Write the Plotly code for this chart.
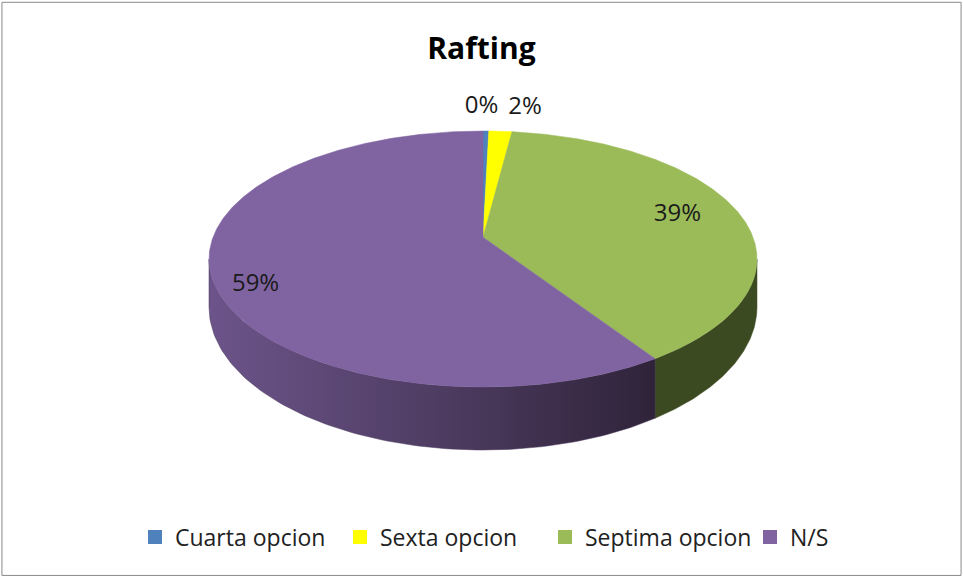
import numpy as np
import plotly.graph_objects as go

# ---------------- data ----------------
categories = ["Cuarta opcion", "Sexta opcion", "Septima opcion", "N/S"]
values = [1, 4, 97, 148]
title_text = "Rafting"

# ---------------- style ----------------
top_colors = ["#4f81bd", "#ffff00", "#9bbb59", "#8064a2"]
side_colors = ["#2c4a6e", "#8c8c00", "#3c4a22", None]
purple_side_scale = [[0.0, "#6c548a"], [0.5, "#4f3d63"], [1.0, "#2f2339"]]
label_r = [1.27, 1.27, 0.74, 0.85]
label_dx = [-5, 4, 5, 2]
label_dy = [0, 0, -2, 16]
label_pos = ["middle center", "middle right", "middle center", "middle center"]
FONT = "Open Sans"

W, H = 963, 576
cx, cy = 483, 259          # ellipse centre (pixel-like axis units)
rx, ry = 274, 128          # ellipse radii
persp = -0.17              # perspective (projective) shift of the pie centre
depth_side, depth_front = 48, 63


def proj(theta_deg, r=1.0):
    """Map a point of the unit pie (angle clockwise from top) to the tilted ellipse."""
    t = np.radians(theta_deg)
    x = r * np.sin(t)
    y = -r * np.cos(t)
    den = 1 + persp * y
    xp = x * np.sqrt(1 - persp ** 2) / den
    yp = (y + persp) / den
    return cx + rx * xp, cy + ry * yp, yp


def depth(yp):
    return depth_side + (depth_front - depth_side) * np.clip(yp, 0, 1)


total = float(sum(values))
fracs = [v / total for v in values]
starts = np.concatenate([[0], np.cumsum(fracs)[:-1]]) * 360
ends = np.cumsum(fracs) * 360

# front (visible) half of the rim: where projected y' >= 0
vis_a = np.degrees(np.arccos(persp))          # right extreme
vis_b = 360 - vis_a                           # left extreme

fig = go.Figure()

# side faces
for i in range(len(values)):
    s, e = max(starts[i], vis_a), min(ends[i], vis_b)
    if e <= s:
        continue
    th = np.linspace(s, e, 100)
    xt, yt, yp = proj(th)
    yb = yt + depth(yp)
    xs = np.concatenate([xt, xt[::-1], [xt[0]]])
    ys = np.concatenate([yt, yb[::-1], [yt[0]]])
    kw = dict(fill="toself", mode="lines", showlegend=False, hoverinfo="skip")
    if side_colors[i] is None:
        fig.add_trace(go.Scatter(x=xs, y=ys, line=dict(width=0.5, color="#4a3a5c"),
                                 fillgradient=dict(type="horizontal", colorscale=purple_side_scale),
                                 **kw))
    else:
        fig.add_trace(go.Scatter(x=xs, y=ys, line=dict(width=0.5, color=side_colors[i]),
                                 fillcolor=side_colors[i], **kw))

# top faces
ax, ay, _ = proj(0, 0)
for i in range(len(values)):
    th = np.linspace(starts[i], ends[i], max(4, int((ends[i] - starts[i]) * 2)))
    xt, yt, _ = proj(th)
    xs = np.concatenate([[ax], xt, [ax]])
    ys = np.concatenate([[ay], yt, [ay]])
    fig.add_trace(go.Scatter(x=xs, y=ys, fill="toself", mode="lines",
                             line=dict(width=0.5, color=top_colors[i]),
                             fillcolor=top_colors[i], showlegend=False, hoverinfo="skip"))

# percentage labels
for i in range(len(values)):
    mid = (starts[i] + ends[i]) / 2
    lx, ly, _ = proj(mid, label_r[i])
    fig.add_trace(go.Scatter(x=[lx + label_dx[i]], y=[ly + label_dy[i]], mode="text",
                             text=[f"{round(100 * fracs[i])}%"],
                             textposition=label_pos[i],
                             textfont=dict(family=FONT, size=24, color="#1a1a1a"),
                             showlegend=False, hoverinfo="skip"))

# legend entries
for i, c in enumerate(categories):
    fig.add_trace(go.Scatter(x=[None], y=[None], mode="markers", name=c,
                             marker=dict(symbol="square", size=14, color=top_colors[i])))

fig.update_layout(
    width=W, height=H,
    margin=dict(l=0, r=0, t=0, b=0, autoexpand=False),
    paper_bgcolor="white", plot_bgcolor="white",
    xaxis=dict(range=[0, W], visible=False, fixedrange=True),
    yaxis=dict(range=[H, 0], visible=False, fixedrange=True),
    title=dict(text=f"<b>{title_text}</b>", x=0.5, xanchor="center",
               y=1 - 48 / H, yanchor="middle",
               font=dict(family=FONT, size=30, color="#000000")),
    legend=dict(orientation="h", x=135 / W, xanchor="left", y=1 - 537 / H, yanchor="middle",
                entrywidth=160, entrywidthmode="pixels",
                font=dict(family=FONT, size=23, color="#222222"),
                bgcolor="rgba(0,0,0,0)"),
    shapes=[dict(type="rect", xref="paper", yref="paper", x0=0.002, x1=0.998,
                 y0=0.001, y1=0.996, line=dict(color="#8a8a8a", width=1))],
)

fig.write_html("out.html", config={"displayModeBar": False},
               post_script="document.body.style.margin='0';document.body.style.overflow='hidden';")
